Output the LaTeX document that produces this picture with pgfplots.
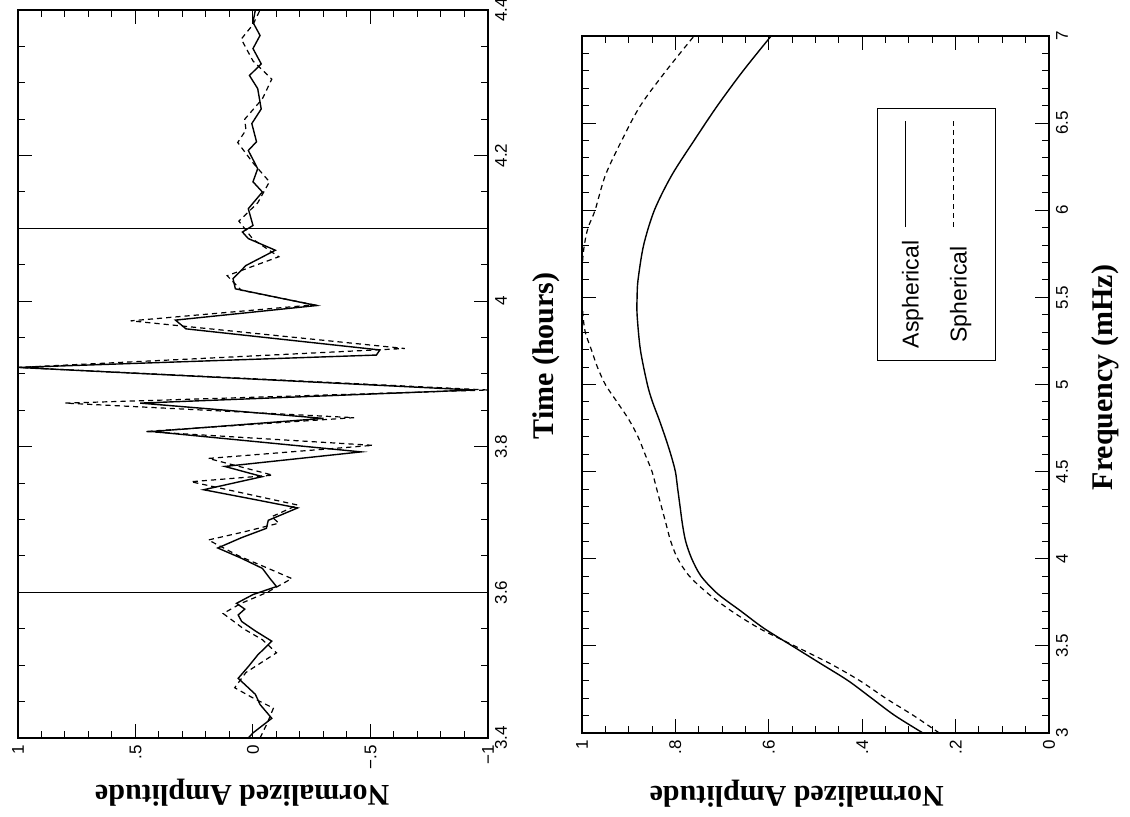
\documentclass[border=0pt]{standalone}
\usepackage{fontspec}
\usepackage{pgfplots}
\pgfplotsset{compat=1.18}
\newfontfamily\lblfont{Liberation Serif}
\newfontfamily\tickfont{Liberation Sans}

\pgfplotsset{
  rotpanel/.style={
    scale only axis,
    anchor=south west,
    tick align=inside,
    major tick length=7pt,
    minor tick length=3.5pt,
    every tick/.style={black, line width=0.5pt},
    axis line style={line width=0.6pt},
    /pgf/number format/assume math mode=true,
    ticklabel style={font=\tickfont\fontsize{8.5}{10}\selectfont},
    label style={font=\lblfont\bfseries\fontsize{15}{17}\selectfont},
    clip=true,
  },
  sol/.style={black, line width=0.7pt},
  dsh/.style={black, line width=0.6pt, dash pattern=on 2.6pt off 2pt},
}

\begin{document}
\begin{tikzpicture}
\begin{scope}[rotate=90, transform shape]
% ---------------- top panel : time series ----------------
\begin{axis}[rotpanel,
  at={(39.5pt,321pt)},
  width=364pt, height=235pt,
  xmin=3.4, xmax=4.4, ymin=-1, ymax=1,
  xtick={3.4,3.6,3.8,4,4.2,4.4},
  minor x tick num=3,
  ytick={-1,-0.5,0,0.5,1},
  yticklabels={−1,−.5,0,.5,1},
  minor y tick num=4,
  xlabel={Time (hours)},
  ylabel={Normalized Amplitude},
  xlabel style={at={(axis description cs:0.525,-0.123)}, anchor=center},
  ylabel style={at={(axis description cs:-0.075,0.523)}, anchor=center},
]
\addplot[black, line width=0.5pt] coordinates {(3.6,-1) (3.6,1)};
\addplot[black, line width=0.5pt] coordinates {(4.1,-1) (4.1,1)};
\addplot[sol] coordinates {
(3.400,0.02) (3.407,0.00) (3.427,-0.08) (3.446,-0.03) (3.460,-0.01)
(3.482,0.063) (3.498,0.02) (3.514,-0.02) (3.533,-0.08) (3.547,-0.01)
(3.560,0.048) (3.569,0.063) (3.577,0.035) (3.585,0.07) (3.597,0.0)
(3.608,-0.10) (3.620,-0.07) (3.633,-0.04) (3.647,0.05) (3.661,0.15)
(3.675,0.05) (3.688,-0.057) (3.699,-0.065) (3.716,-0.19) (3.728,0.0)
(3.741,0.21) (3.759,-0.04) (3.773,0.12) (3.793,-0.46) (3.821,0.43)
(3.839,-0.30) (3.860,0.48) (3.878,-0.94) (3.909,1.00) (3.926,-0.525)
(3.933,-0.54) (3.962,0.285) (3.974,0.33) (3.994,-0.27) (4.017,0.075)
(4.031,0.085) (4.049,0.03) (4.070,-0.095) (4.086,0.02) (4.095,0.045)
(4.104,0.0) (4.127,0.02) (4.150,-0.04) (4.164,0.0) (4.182,-0.02)
(4.207,0.02) (4.219,-0.015) (4.244,0.005) (4.264,-0.035) (4.292,-0.02)
(4.310,0.015) (4.326,-0.035) (4.347,0.0) (4.365,-0.03) (4.383,0.0)
(4.400,-0.01)
};
\addplot[dsh] coordinates {
(3.400,-0.03) (3.420,-0.06) (3.441,-0.087) (3.455,0.0) (3.469,0.078)
(3.490,0.03) (3.517,-0.10) (3.535,-0.04) (3.550,0.04) (3.571,0.127)
(3.585,0.05) (3.600,-0.06) (3.619,-0.165) (3.635,-0.05) (3.650,0.06)
(3.672,0.19) (3.683,0.04) (3.695,-0.11) (3.704,-0.08) (3.720,-0.19)
(3.752,0.264) (3.761,-0.084) (3.784,0.19) (3.802,-0.51) (3.821,0.46)
(3.840,-0.43) (3.860,0.80) (3.878,-1.00) (3.909,1.00) (3.935,-0.646)
(3.973,0.52) (3.995,-0.26) (4.015,0.05) (4.035,0.11) (4.048,0.0)
(4.061,-0.11) (4.085,0.0) (4.110,0.06) (4.135,-0.02) (4.164,-0.07)
(4.190,0.0) (4.218,0.065) (4.235,0.03) (4.250,0.035) (4.278,-0.04)
(4.305,-0.08) (4.330,0.0) (4.360,0.05) (4.380,0.0) (4.400,-0.03)
};
\end{axis}
% ---------------- bottom panel : spectrum ----------------
\begin{axis}[rotpanel,
  at={(42pt,40.5pt)},
  width=348.5pt, height=233.5pt,
  xmin=3, xmax=7, ymin=0, ymax=1,
  xtick={3,3.5,4,4.5,5,5.5,6,6.5,7},
  minor x tick num=4,
  ytick={0,0.2,0.4,0.6,0.8,1},
  yticklabels={0,.2,.4,.6,.8,1},
  minor y tick num=3,
  xlabel={Frequency (mHz)},
  ylabel={Normalized Amplitude},
  xlabel style={at={(axis description cs:0.51,-0.12)}, anchor=center},
  ylabel style={at={(axis description cs:-0.0875,0.54)}, anchor=center},
  legend plot pos=right,
  legend image code/.code={\draw[#1] (0pt,3.6pt) -- (53pt,3.6pt);},
  legend style={at={(axis description cs:0.534,0.368)}, anchor=north west,
    draw=black, line width=0.6pt,
    font=\tickfont\fontsize{11.5}{12}\selectfont,
    inner xsep=6pt, inner ysep=12pt, row sep=13pt, column sep=6.5pt,
    nodes={inner sep=0pt, text height=8.5pt, text depth=2.5pt}},
]
\addplot[sol, smooth, tension=0.5] coordinates {
(3.0,0.27) (3.1,0.33) (3.2,0.38) (3.3,0.43) (3.4,0.49) (3.5,0.55)
(3.6,0.61) (3.7,0.66) (3.8,0.71) (3.9,0.745) (4.0,0.765) (4.1,0.778)
(4.2,0.785) (4.3,0.79) (4.4,0.795) (4.5,0.80) (4.6,0.81) (4.7,0.822)
(4.8,0.835) (4.9,0.849) (5.0,0.86) (5.2,0.875) (5.4,0.882) (5.5,0.882)
(5.6,0.88) (5.8,0.868) (6.0,0.845) (6.2,0.808) (6.4,0.76) (6.6,0.71)
(6.8,0.655) (7.0,0.595)
};
\addlegendentry{Aspherical}
\addplot[dsh, smooth, tension=0.5] coordinates {
(3.0,0.235) (3.1,0.29) (3.2,0.35) (3.3,0.405) (3.4,0.47) (3.5,0.545)
(3.6,0.62) (3.7,0.68) (3.8,0.73) (3.9,0.77) (4.0,0.795) (4.1,0.81)
(4.2,0.82) (4.3,0.83) (4.4,0.84) (4.5,0.85) (4.6,0.865) (4.7,0.88)
(4.8,0.90) (4.9,0.925) (5.0,0.95) (5.1,0.967) (5.2,0.98) (5.3,0.993)
(5.4,0.998) (5.5,1.0) (5.6,1.0) (5.7,0.999) (5.8,0.995) (5.9,0.987)
(6.0,0.972) (6.2,0.95) (6.4,0.915) (6.6,0.875) (6.8,0.82) (7.0,0.76)
};
\addlegendentry{Spherical}
\end{axis}
\end{scope}
\pgfresetboundingbox
\path (-565pt,0pt) rectangle (0pt,408.5pt);
\end{tikzpicture}
\end{document}
